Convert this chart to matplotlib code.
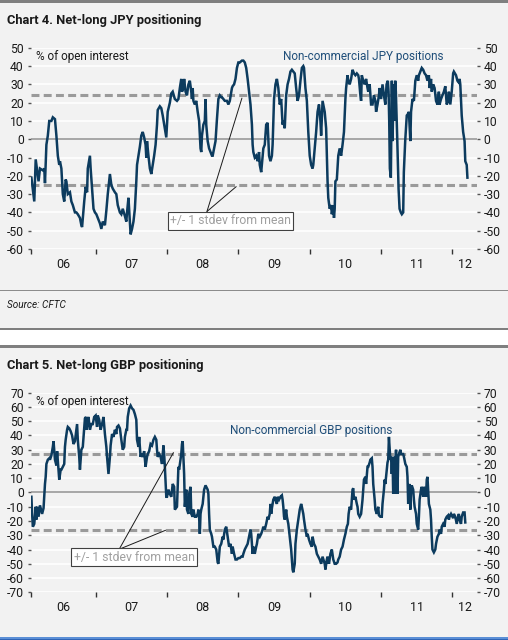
import numpy as np
import matplotlib
matplotlib.use("Agg")
import matplotlib.pyplot as plt
from matplotlib.patches import Rectangle

plt.rcParams['font.family'] = ['Roboto', 'DejaVu Sans']
plt.rcParams['axes.unicode_minus'] = False

# ---- data (decimal years, % of open interest) ----
jpy_t = [
    2006.10, 2006.14, 2006.16, 2006.18, 2006.20, 2006.22, 2006.26, 2006.28, 2006.29, 2006.31,
    2006.33, 2006.35, 2006.38, 2006.40, 2006.43, 2006.45, 2006.47, 2006.49, 2006.50, 2006.52,
    2006.54, 2006.56, 2006.58, 2006.59, 2006.61, 2006.64, 2006.66, 2006.68, 2006.71, 2006.73,
    2006.75, 2006.78, 2006.80, 2006.81, 2006.84, 2006.86, 2006.88, 2006.89, 2006.92, 2006.93,
    2006.95, 2006.97, 2006.99,
    2007.01, 2007.03, 2007.06, 2007.08, 2007.10, 2007.13, 2007.15, 2007.17, 2007.20, 2007.22,
    2007.24, 2007.27, 2007.29, 2007.31, 2007.34, 2007.36, 2007.38, 2007.41, 2007.43, 2007.44,
    2007.46, 2007.48, 2007.49, 2007.51, 2007.53, 2007.55, 2007.57, 2007.58, 2007.60, 2007.62,
    2007.64, 2007.66, 2007.68, 2007.70, 2007.71, 2007.72, 2007.74, 2007.76, 2007.78, 2007.80,
    2007.82, 2007.84, 2007.86, 2007.87, 2007.90, 2007.92, 2007.94, 2007.97, 2007.99,
    2008.01, 2008.04, 2008.06, 2008.08,
    2008.11, 2008.14, 2008.16, 2008.18, 2008.20, 2008.21, 2008.23, 2008.24, 2008.26, 2008.28,
    2008.30, 2008.32, 2008.34, 2008.35, 2008.36, 2008.37, 2008.39, 2008.41, 2008.43, 2008.45,
    2008.47, 2008.48, 2008.49, 2008.51, 2008.53, 2008.54, 2008.55, 2008.57, 2008.59, 2008.61,
    2008.63, 2008.64, 2008.66, 2008.68, 2008.70, 2008.72, 2008.74, 2008.76, 2008.77, 2008.79,
    2008.81, 2008.84, 2008.86, 2008.88, 2008.91, 2008.92, 2008.94, 2008.96, 2008.98,
    2009.00, 2009.02, 2009.05, 2009.07, 2009.09, 2009.11, 2009.13, 2009.15, 2009.17, 2009.19,
    2009.20, 2009.21, 2009.23, 2009.25, 2009.27, 2009.29, 2009.30, 2009.32, 2009.34, 2009.35,
    2009.37, 2009.39, 2009.41, 2009.43, 2009.45, 2009.47, 2009.48, 2009.50, 2009.52, 2009.54,
    2009.56, 2009.58, 2009.60, 2009.62, 2009.63, 2009.65, 2009.67, 2009.69, 2009.71, 2009.73,
    2009.75, 2009.77, 2009.79, 2009.81, 2009.83, 2009.85, 2009.87, 2009.89, 2009.91, 2009.92,
    2009.94, 2009.96, 2009.98,
    2010.00, 2010.02, 2010.04, 2010.05, 2010.07, 2010.09, 2010.11, 2010.13, 2010.15, 2010.16,
    2010.18, 2010.21, 2010.23, 2010.24, 2010.25, 2010.26, 2010.28, 2010.30, 2010.31, 2010.33,
    2010.34, 2010.35, 2010.36, 2010.38, 2010.40, 2010.41, 2010.42, 2010.44, 2010.46, 2010.48,
    2010.50, 2010.51, 2010.53, 2010.54, 2010.56, 2010.58, 2010.60, 2010.62, 2010.64, 2010.66,
    2010.68, 2010.69, 2010.71, 2010.72, 2010.73, 2010.75, 2010.77, 2010.79, 2010.81, 2010.82,
    2010.84, 2010.86, 2010.88, 2010.90, 2010.92, 2010.93, 2010.95, 2010.97, 2010.98,
    2011.00, 2011.02, 2011.04, 2011.06, 2011.077, 2011.095, 2011.105, 2011.114, 2011.123, 2011.137,
    2011.151, 2011.161, 2011.175, 2011.189, 2011.198, 2011.207, 2011.226, 2011.245, 2011.259, 2011.277,
    2011.291, 2011.310, 2011.319, 2011.338, 2011.36, 2011.38, 2011.39, 2011.41, 2011.42, 2011.44,
    2011.46, 2011.48, 2011.50, 2011.52, 2011.53, 2011.55, 2011.57, 2011.59, 2011.61, 2011.63,
    2011.65, 2011.67, 2011.68, 2011.70, 2011.71, 2011.73, 2011.75, 2011.77, 2011.79, 2011.81,
    2011.82, 2011.84, 2011.86, 2011.88, 2011.90, 2011.92, 2011.94, 2011.95, 2011.97, 2011.99,
    2012.01, 2012.02, 2012.05, 2012.07, 2012.09, 2012.10, 2012.11, 2012.13, 2012.15, 2012.17,
    2012.18, 2012.20, 2012.21,
]
jpy_v = [
    -21, -34, -11, -17, -23, -16, -17, -16, -24, -3,
    2, 10, 10, 12, 11, 2, -9, -14, -12, -16,
    -30, -34, -22, -23, -30, -29, -34, -36, -40, -40,
    -41, -43, -47, -48, -34, -26, -29, -16, -9, -16,
    -27, -38, -40,
    -41, -43, -46, -49, -45, -47, -39, -30, -19, -25,
    -27, -29, -30, -36, -40, -41, -38, -42, -45, -40,
    -32, -45, -52, -49, -45, -38, -23, -14, -9, -4,
    2, 4, 1, -3, -10, -1, -9, -16, -19, -14,
    -9, -3, 8, 16, 18, 17, 13, 6, 1,
    15, 20, 25, 26,
    22, 21, 22, 28, 33, 26, 28, 33, 26, 24,
    30, 32, 26, 22, 28, 21, 19, 21, 15, 10,
    -5, -7, 2, 8, 10, 22, 8, -1, -5, -7,
    -9, -9, -5, -1, 11, 22, 24, 23, 23, 22,
    21, 21, 19, 21, 28, 29, 30, 33, 39,
    42, 42, 43, 43, 42, 39, 33, 26, 19, 8,
    -3, -7, -10, -9, -12, -7, -14, -18, -9, -5,
    -3, 8, 9, -9, -12, -9, -3, 22, 30, 33,
    28, 19, 22, 8, 10, 6, 24, 30, 33, 37,
    38, 37, 36, 28, 21, 24, 32, 39, 40, 39,
    28, 21, 4,
    -9, -14, -16, -14, -5, 4, 15, 19, 10, 2,
    21, 15, 6, -9, -23, -32, -38, -36, -41, -36,
    -43, -38, -23, -22, -9, -7, -5, -9, -3, 4,
    22, 28, 35, 32, 30, 33, 38, 36, 35, 36,
    35, 33, 24, 21, 35, 32, 30, 33, 28, 26,
    30, 19, 19, 24, 21, 15, 19, 24, 28,
    22, 30, 24, 19, 30, 32, 26, 10, -16, -21,
    32, -1, 30, 10, 32, 26, 1, -27, -38, -40,
    -41, -40, -18, -1, 13, 14, 15, -1, 15, 22,
    21, 32, 35, 32, 35, 37, 39, 38, 36, 35,
    32, 35, 28, 33, 26, 30, 28, 21, 19, 26,
    19, 22, 24, 26, 29, 19, 21, 26, 19, 26,
    36, 37, 35, 32, 31, 33, 30, 13, 4, -1,
    -12, -14, -21,
]

gbp_t = [
    2006.10, 2006.11, 2006.12, 2006.14, 2006.16, 2006.17, 2006.18, 2006.20, 2006.22, 2006.23,
    2006.25, 2006.27, 2006.28, 2006.29, 2006.30, 2006.31, 2006.33, 2006.35, 2006.36, 2006.38,
    2006.40, 2006.41, 2006.43, 2006.45, 2006.46, 2006.48, 2006.49, 2006.51, 2006.52, 2006.54,
    2006.56, 2006.57, 2006.58, 2006.60, 2006.61, 2006.63, 2006.65, 2006.67, 2006.69, 2006.71,
    2006.73, 2006.74, 2006.75, 2006.77, 2006.78, 2006.80, 2006.82, 2006.84, 2006.85, 2006.865,
    2006.875, 2006.89, 2006.90, 2006.92, 2006.94, 2006.96, 2006.98,
    2007.00, 2007.02, 2007.03, 2007.05, 2007.07, 2007.09, 2007.11, 2007.13, 2007.15, 2007.16,
    2007.18, 2007.20, 2007.21, 2007.23, 2007.25, 2007.27, 2007.29, 2007.30, 2007.32, 2007.34,
    2007.36, 2007.38, 2007.40, 2007.41, 2007.43, 2007.44, 2007.45, 2007.47, 2007.49, 2007.51,
    2007.53, 2007.55, 2007.57, 2007.58, 2007.60, 2007.61, 2007.63, 2007.64, 2007.66, 2007.68,
    2007.70, 2007.72, 2007.73, 2007.75, 2007.77, 2007.79, 2007.81, 2007.83, 2007.85, 2007.86,
    2007.87, 2007.89, 2007.91, 2007.93, 2007.95, 2007.96, 2007.97, 2007.99,
    2008.00, 2008.02, 2008.04, 2008.06, 2008.08, 2008.10, 2008.11,
    2008.14, 2008.15, 2008.16, 2008.17, 2008.19, 2008.20, 2008.21, 2008.22, 2008.23, 2008.24,
    2008.25, 2008.27, 2008.28, 2008.30, 2008.31, 2008.33, 2008.34, 2008.36, 2008.37, 2008.39,
    2008.41, 2008.43, 2008.44, 2008.45, 2008.46, 2008.47, 2008.48, 2008.49, 2008.50, 2008.52,
    2008.54, 2008.56, 2008.57, 2008.58, 2008.59, 2008.60, 2008.62, 2008.63, 2008.65, 2008.67,
    2008.69, 2008.71, 2008.72, 2008.74, 2008.76, 2008.78, 2008.79, 2008.81, 2008.83, 2008.85,
    2008.87, 2008.89, 2008.91, 2008.92, 2008.94, 2008.96, 2008.98,
    2009.00, 2009.02, 2009.04, 2009.06, 2009.07, 2009.09, 2009.11, 2009.13, 2009.15, 2009.17,
    2009.18, 2009.20, 2009.21, 2009.23, 2009.25, 2009.26, 2009.28, 2009.30, 2009.32, 2009.34,
    2009.35, 2009.37, 2009.39, 2009.41, 2009.42, 2009.44, 2009.45, 2009.46, 2009.47, 2009.48,
    2009.49, 2009.51, 2009.52, 2009.54, 2009.55, 2009.57, 2009.59, 2009.61, 2009.62, 2009.63,
    2009.64, 2009.65, 2009.67, 2009.68, 2009.70, 2009.72, 2009.74, 2009.76, 2009.77, 2009.79,
    2009.80, 2009.82, 2009.84, 2009.86, 2009.88, 2009.89, 2009.91, 2009.92, 2009.94, 2009.96,
    2009.97, 2009.99,
    2010.01, 2010.03, 2010.04, 2010.06, 2010.08, 2010.10, 2010.12, 2010.14, 2010.16, 2010.18,
    2010.21, 2010.22, 2010.24, 2010.25, 2010.27, 2010.29, 2010.31, 2010.33, 2010.35, 2010.37,
    2010.39, 2010.40, 2010.42, 2010.44, 2010.46, 2010.48, 2010.50, 2010.52, 2010.535, 2010.545,
    2010.56, 2010.58, 2010.60, 2010.61, 2010.62, 2010.64, 2010.66, 2010.67, 2010.68, 2010.70,
    2010.72, 2010.74, 2010.76, 2010.78, 2010.79, 2010.81, 2010.82, 2010.84, 2010.85, 2010.87,
    2010.88, 2010.89, 2010.91, 2010.92, 2010.94, 2010.96, 2010.97, 2010.99,
    2011.01, 2011.02, 2011.04, 2011.05, 2011.06, 2011.08, 2011.09, 2011.10, 2011.11, 2011.13,
    2011.14, 2011.15, 2011.16, 2011.17, 2011.18, 2011.19, 2011.20, 2011.21, 2011.22, 2011.23,
    2011.24, 2011.25, 2011.27, 2011.28, 2011.29, 2011.31, 2011.32, 2011.34, 2011.36, 2011.37,
    2011.375, 2011.38, 2011.39, 2011.40, 2011.41, 2011.42, 2011.43, 2011.45, 2011.46, 2011.47,
    2011.49, 2011.50, 2011.52, 2011.53, 2011.54, 2011.56, 2011.57, 2011.59, 2011.60, 2011.61,
    2011.63, 2011.64, 2011.65, 2011.66, 2011.67, 2011.69, 2011.70, 2011.71, 2011.72, 2011.74,
    2011.76, 2011.77, 2011.79, 2011.81, 2011.82, 2011.84, 2011.85, 2011.87, 2011.89, 2011.90,
    2011.92, 2011.94, 2011.95, 2011.96, 2011.98,
    2012.00, 2012.01, 2012.02, 2012.04, 2012.06, 2012.08, 2012.09, 2012.10, 2012.12, 2012.13,
    2012.15, 2012.17, 2012.18,
]
gbp_v = [
    -3, -15, -24, -22, -10, -19, -10, -17, -9, -11,
    -15, -11, -3, 6, 11, 20, 23, 24, 23, 26,
    32, 36, 23, 19, 29, 16, 9, 16, 16, 18,
    20, 32, 37, 44, 46, 45, 43, 40, 34, 36,
    44, 48, 37, 25, 16, 30, 32, 46, 52, 53,
    44, 51, 53, 44, 48, 48, 53,
    54, 46, 54, 51, 44, 48, 53, 41, 32, 25,
    13, 25, 33, 41, 39, 44, 41, 46, 47, 45,
    37, 30, 32, 39, 44, 44, 53, 59, 61, 59,
    58, 55, 51, 37, 32, 39, 25, 27, 25, 29,
    18, 25, 27, 29, 34, 33, 37, 39, 37, 30,
    25, 27, 25, 20, 33, 27, 18, -3,
    -3, 2, -1, -3, 6, 4, -12,
    -10, 4, 18, 16, 23, 27, 34, 36, 25, 13,
    -10, 2, -12, -15, -1, 4, -15, -17, -12, -17,
    -17, -15, -12, -17, -29, -15, -12, -10, -8, 2,
    5, 3, 2, -1, -15, -26, -29, -31, -38, -38,
    -40, -49, -50, -38, -36, -31, -33, -26, -24, -31,
    -38, -36, -43, -38, -43, -47, -47,
    -46, -46, -45, -45, -43, -40, -38, -36, -31, -26,
    -29, -43, -38, -43, -38, -36, -29, -31, -29, -26,
    -24, -26, -22, -17, -19, -15, -8, -15, -11, -8,
    -5, -3, -5, -8, -3, -5, -3, -2, -5, -10,
    -17, -19, -12, -17, -22, -31, -40, -54, -56, -50,
    -36, -26, -19, -12, -8, -10, -15, -19, -26, -31,
    -29, -33,
    -36, -38, -31, -36, -38, -43, -45, -47, -50, -45,
    -50, -54, -47, -45, -50, -43, -40, -47, -50, -50,
    -49, -47, -45, -40, -38, -33, -29, -24, -22, -15,
    -10, -12, 2, 3, -5, -3, -8, -10, -15, -17,
    -15, -5, 9, 11, 6, 18, 18, 21, 23, 24,
    18, 6, -5, -12, -15, -10, -16, -17,
    -17, -8, 2, 9, 6, 16, 21, 23, 39, 23,
    25, 13, 25, -1, 25, -1, 23, 30, 13, -1,
    25, 27, 30, 27, 27, 27, 25, 20, 18, 11,
    2, -8, 2, 6, -12, 2, 5, 2, -5, -10,
    -15, -22, -26, -17, -5, 2, 4, -3, 4, 2,
    -3, 9, 11, 2, -8, -12, -19, -31, -40, -42,
    -40, -36, -31, -29, -26, -29, -24, -22, -24, -19,
    -17, -16, -19, -17, -15,
    -17, -18, -15, -17, -22, -17, -15, -19, -22, -17,
    -14, -14, -21,
]

# +/- 1 stdev bands around the mean
jpy_band = (24, -25)
gbp_band = (27, -26.5)

year_labels = ['06', '07', '08', '09', '10', '11', '12']
x_start, x_end = 2006.09, 2012.34

# ---- styling ----
BG = '#f2f2f2'
NAVY = '#0c3b5e'
W, H = 508, 640

fig = plt.figure(figsize=(W / 100, H / 100), dpi=100, facecolor=BG)


def fy(px):
    return 1 - px / H


def band(y0, y1, color):
    fig.add_artist(Rectangle((0, fy(y1)), 1, (y1 - y0) / H,
                             transform=fig.transFigure, color=color, lw=0))


band(0, 3, '#7f7f7f')
band(289.5, 290.5, '#8c8c8c')
band(327.5, 329.5, '#7f7f7f')
band(329.5, 345, 'white')
band(345, 347.5, '#7f7f7f')
band(636.5, 638.5, '#5b8fd6')
band(638.5, 640, '#2f64b5')

fig.text(7 / W, fy(20.5), 'Chart 4. Net-long JPY positioning', ha='left', va='center',
         fontsize=9.3, fontweight='semibold', color='#1a1a1a')
fig.text(7 / W, fy(305), 'Source: CFTC', ha='left', va='center',
         fontsize=7.2, style='italic', color='#1a1a1a')
fig.text(7 / W, fy(365.5), 'Chart 5. Net-long GBP positioning', ha='left', va='center',
         fontsize=9.3, fontweight='semibold', color='#1a1a1a')


def draw_chart(rect, t, v, ylim, bands, series_label, label_xy):
    ax = fig.add_axes(rect)
    ax.set_facecolor(BG)
    for s in ax.spines.values():
        s.set_visible(False)
    ax.set_xlim(x_start, x_end)
    ax.set_ylim(*ylim)
    ax.set_yticks(np.arange(ylim[0], ylim[1] + 1, 10))
    ax.yaxis.grid(True, color='white', lw=1.2)
    ax.set_axisbelow(True)
    ax.tick_params(axis='y', left=True, right=True, labelleft=True, labelright=True,
                   length=2, width=1, color='#555555', labelsize=8.7, pad=3,
                   labelcolor='#1a1a1a')

    # year boundaries as tick marks, labels centred between them
    bounds = [x_start] + list(range(2007, 2013)) + [x_end]
    ax.set_xticks(bounds[:-1])
    ax.set_xticklabels([])
    mids = [(a + b) / 2 for a, b in zip(bounds[:-1], bounds[1:])]
    ax.set_xticks(mids, minor=True)
    ax.set_xticklabels(year_labels, minor=True)
    ax.tick_params(axis='x', which='major', length=3.5, width=1, color='#333333')
    ax.tick_params(axis='x', which='minor', length=0, pad=6.5, labelsize=9,
                   labelcolor='#1a1a1a')

    ax.axhline(0, color='#8f8f8f', lw=1.1, zorder=1)
    for b in bands:
        ax.axhline(b, color='#9a9a9a', lw=2.2, ls=(0, (2.6, 1.4)), zorder=1)
    ax.plot(t, v, color=NAVY, lw=1.8, zorder=3, solid_joinstyle='miter')

    ax.text(0.012, label_xy[1], '% of open interest', transform=ax.transAxes,
            ha='left', va='center', fontsize=8.5, color='#1a1a1a')
    ax.text(label_xy[0], label_xy[2], series_label, transform=ax.transAxes,
            ha='left', va='center', fontsize=8.5, color='#1f4e79')
    return ax


ax1 = draw_chart([30.7 / W, fy(249), 446 / W, 201.2 / H], jpy_t, jpy_v, (-60, 50),
                 jpy_band, 'Non-commercial JPY positions', (0.566, 0.959, 0.959))
ax2 = draw_chart([30.7 / W, fy(592.3), 446 / W, 199.6 / H], gbp_t, gbp_v, (-70, 70),
                 gbp_band, 'Non-commercial GBP positions', (0.447, 0.958, 0.813))


def stdev_note(ax, text_xy, hub, ends):
    ax.text(*text_xy, '+/- 1 stdev from mean', ha='center', va='center', fontsize=8.8,
            color='#a0a0a0', zorder=5,
            bbox=dict(boxstyle='square,pad=0.2', fc='white', ec='#404040', lw=0.8))
    for e in ends:
        ax.annotate('', xy=e, xytext=hub, zorder=4,
                    arrowprops=dict(arrowstyle='-', color='#1a1a1a', lw=0.7,
                                    shrinkA=0, shrinkB=0))


stdev_note(ax1, (2008.89, -44.5), (2008.56, -39.5), [(2009.05, 22.5), (2008.97, -25.9)])
stdev_note(ax2, (2007.54, -45.4), (2007.33, -39.8), [(2008.09, 28.0), (2007.98, -26.5)])

fig.savefig('out.png', dpi=100, facecolor=BG)
